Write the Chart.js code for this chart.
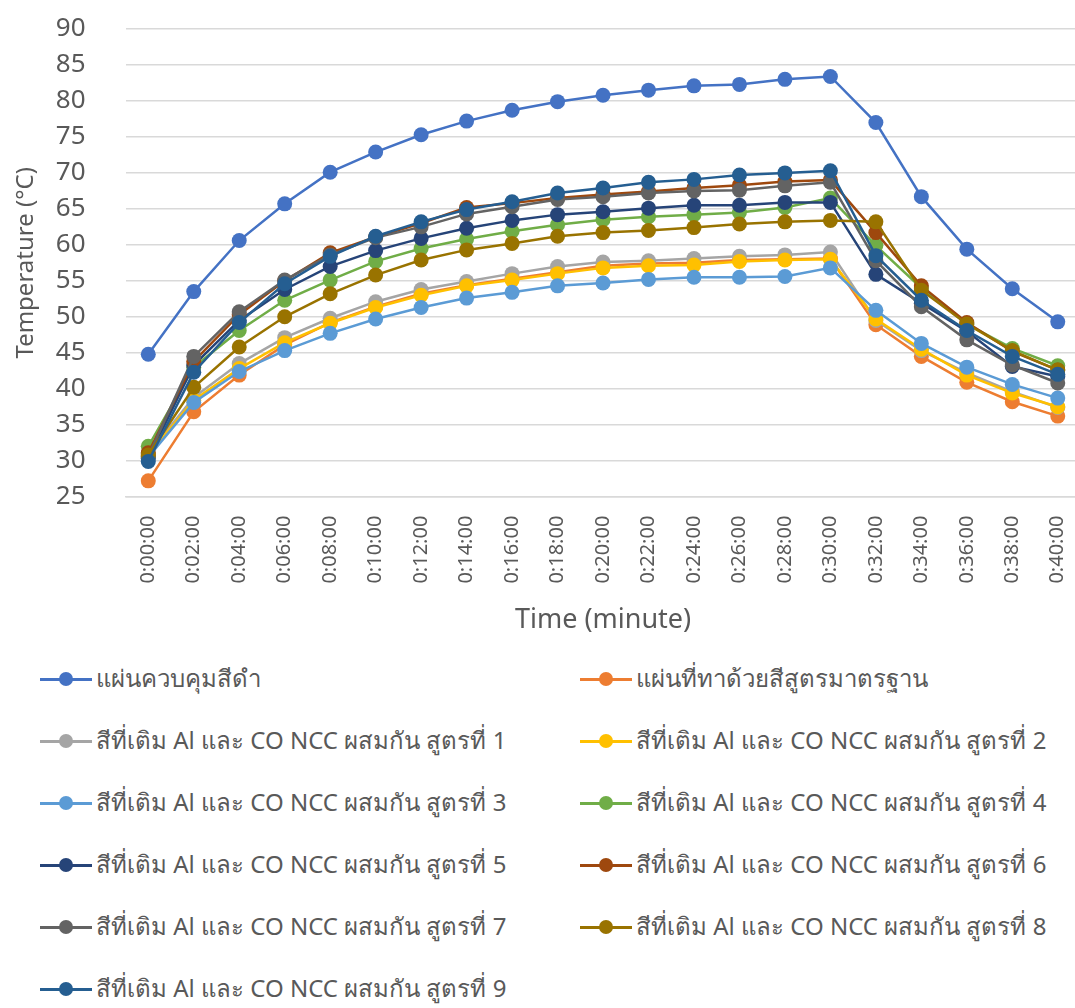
<!DOCTYPE html>
<html lang="th">
<head>
<meta charset="UTF-8">
<title>Temperature</title>
<script src="https://cdn.jsdelivr.net/npm/chart.js"></script>
<style>
  body { margin: 0; background: #fff; font-family: "Noto Sans", "DejaVu Sans", sans-serif; overflow: hidden; }
  #wrap { position: relative; width: 1088px; height: 637px; }
  #legend { position: absolute; left: 0; top: 640px; width: 1075px; }
  .item { position: absolute; display: flex; align-items: center; color: #595959; font-size: 24px; white-space: nowrap; }
  .mark { position: relative; width: 52px; height: 14px; margin-right: 4px; }
  .mark .ln { position: absolute; left: 0; right: 0; top: 6px; height: 3px; }
  .mark .dot { position: absolute; left: 19px; top: 0; width: 14px; height: 14px; border-radius: 50%; }
</style>
</head>
<body>
<div id="wrap"><canvas id="tempChart" width="1088" height="637"></canvas></div>
<div id="legend"></div>

<script>
const timeLabels = ['0:00:00','0:02:00','0:04:00','0:06:00','0:08:00','0:10:00','0:12:00','0:14:00','0:16:00','0:18:00','0:20:00',
  '0:22:00','0:24:00','0:26:00','0:28:00','0:30:00','0:32:00','0:34:00','0:36:00','0:38:00','0:40:00'];

const seriesNames = [
  'แผ่นควบคุมสีดำ',
  'แผ่นที่ทาด้วยสีสูตรมาตรฐาน',
  'สีที่เติม Al และ CO NCC ผสมกัน สูตรที่ 1',
  'สีที่เติม Al และ CO NCC ผสมกัน สูตรที่ 2',
  'สีที่เติม Al และ CO NCC ผสมกัน สูตรที่ 3',
  'สีที่เติม Al และ CO NCC ผสมกัน สูตรที่ 4',
  'สีที่เติม Al และ CO NCC ผสมกัน สูตรที่ 5',
  'สีที่เติม Al และ CO NCC ผสมกัน สูตรที่ 6',
  'สีที่เติม Al และ CO NCC ผสมกัน สูตรที่ 7',
  'สีที่เติม Al และ CO NCC ผสมกัน สูตรที่ 8',
  'สีที่เติม Al และ CO NCC ผสมกัน สูตรที่ 9'
];

const blackPanel = [44.8, 53.5, 60.6, 65.7, 70.1, 72.9, 75.3, 77.2, 78.7, 79.9, 80.8, 81.5, 82.1, 82.3, 83.0, 83.4, 77.0, 66.7, 59.4, 53.9, 49.3];
const standardPaint = [27.2, 36.8, 41.9, 46.1, 49.2, 51.4, 53.2, 54.4, 55.3, 56.2, 57.1, 57.4, 57.5, 57.9, 58.0, 58.1, 48.9, 44.5, 40.9, 38.2, 36.2];
const formula1 = [31.0, 38.8, 43.5, 47.1, 49.8, 52.1, 53.8, 54.9, 56.0, 57.0, 57.6, 57.8, 58.1, 58.4, 58.6, 59.0, 49.5, 45.3, 42.2, 39.6, 37.4];
const formula2 = [30.8, 38.4, 42.8, 46.4, 49.1, 51.3, 53.0, 54.3, 55.1, 56.0, 56.8, 57.1, 57.2, 57.7, 57.9, 58.0, 49.7, 45.5, 41.9, 39.4, 37.5];
const formula3 = [30.5, 38.1, 42.4, 45.3, 47.7, 49.7, 51.3, 52.6, 53.4, 54.3, 54.7, 55.2, 55.5, 55.5, 55.6, 56.8, 50.9, 46.3, 43.0, 40.6, 38.7];
const formula4 = [32.0, 43.0, 48.1, 52.3, 55.1, 57.7, 59.5, 60.8, 61.9, 62.8, 63.5, 63.9, 64.2, 64.5, 65.2, 66.5, 59.9, 54.0, 49.0, 45.6, 43.2];
const formula5 = [30.3, 43.3, 49.5, 53.8, 57.0, 59.2, 60.9, 62.3, 63.4, 64.2, 64.6, 65.1, 65.5, 65.5, 65.9, 65.9, 55.9, 51.9, 48.0, 43.1, 41.7];
const formula6 = [31.1, 43.8, 50.3, 55.0, 58.9, 61.1, 63.0, 65.2, 65.8, 66.5, 67.0, 67.4, 67.9, 68.3, 68.8, 69.0, 61.7, 54.3, 49.2, 45.2, 42.6];
const formula7 = [30.6, 44.5, 50.7, 55.1, 58.6, 61.0, 62.5, 64.3, 65.3, 66.3, 66.7, 67.2, 67.5, 67.6, 68.2, 68.7, 57.8, 51.4, 46.8, 43.3, 40.8];
const formula8 = [30.8, 40.2, 45.8, 50.0, 53.2, 55.8, 57.9, 59.3, 60.2, 61.2, 61.7, 62.0, 62.4, 62.9, 63.2, 63.4, 63.2, 53.7, 49.0, 45.3, 42.6];
const formula9 = [29.9, 42.3, 49.2, 54.6, 58.4, 61.2, 63.2, 64.9, 66.0, 67.2, 67.9, 68.7, 69.1, 69.7, 70.0, 70.3, 58.5, 52.3, 48.1, 44.5, 42.0];

const yTicks = { min: 25, max: 90, step: 5 };

const allSeries = [blackPanel, standardPaint, formula1, formula2, formula3, formula4, formula5, formula6, formula7, formula8, formula9];
const colors = ['#4472C4','#ED7D31','#A5A5A5','#FFC000','#5B9BD5','#70AD47','#264478','#9E480E','#636363','#997300','#255E91'];

const textColor = '#595959';
const fontFamily = '"Noto Sans", "DejaVu Sans", sans-serif';

// later series sit on top, like the original
const datasets = allSeries.map((vals, i) => ({
  label: seriesNames[i],
  data: vals,
  borderColor: colors[i],
  backgroundColor: colors[i],
  borderWidth: 2.5,
  pointRadius: 7.5,
  pointHoverRadius: 7.5,
  pointBorderWidth: 0,
  tension: 0,
  order: allSeries.length - i
}));

const ctx = document.getElementById('tempChart').getContext('2d');
const chart = new Chart(ctx, {
  type: 'line',
  data: { labels: timeLabels, datasets: datasets },
  options: {
    responsive: false,
    animation: false,
    layout: { padding: { top: 29, right: 0, left: 10, bottom: 0 } },
    plugins: { legend: { display: false }, tooltip: { enabled: false } },
    scales: {
      x: {
        offset: true,
        // invisible tick marks give the gap under the axis
        grid: { display: true, drawOnChartArea: false, drawTicks: true, tickLength: 19, tickColor: 'rgba(0,0,0,0)', color: 'rgba(0,0,0,0)' },
        border: { display: true, color: '#d9d9d9', width: 1.5 },
        ticks: { color: textColor, font: { family: fontFamily, size: 20 }, minRotation: 90, maxRotation: 90, padding: 0, autoSkip: false },
        title: { display: true, text: 'Time (minute)', color: textColor, font: { family: fontFamily, size: 27 }, padding: { top: 21, bottom: 0 } }
      },
      y: {
        min: yTicks.min,
        max: yTicks.max,
        grid: { color: '#d9d9d9', lineWidth: 1.5, drawTicks: true, tickLength: 36, tickColor: 'rgba(0,0,0,0)' },
        border: { display: false },
        ticks: { stepSize: yTicks.step, autoSkip: false, color: textColor, font: { family: fontFamily, size: 26 }, padding: 4 },
        title: { display: true, text: 'Temperature (°C)', color: textColor, font: { family: fontFamily, size: 24 }, padding: { top: 2, bottom: 11 } }
      }
    }
  }
});

// two-column legend built from the chart's datasets
const legendBox = document.getElementById('legend');
chart.data.datasets.forEach((ds, i) => {
  const item = document.createElement('div');
  item.className = 'item';
  item.style.left = (i % 2 === 0 ? 40 : 580) + 'px';
  item.style.top = (Math.floor(i / 2) * 62 + 19) + 'px';
  item.innerHTML = '<span class="mark"><span class="ln" style="background:' + ds.borderColor + '"></span>' +
    '<span class="dot" style="background:' + ds.borderColor + '"></span></span><span>' + ds.label + '</span>';
  legendBox.appendChild(item);
});
</script>
</body>
</html>
